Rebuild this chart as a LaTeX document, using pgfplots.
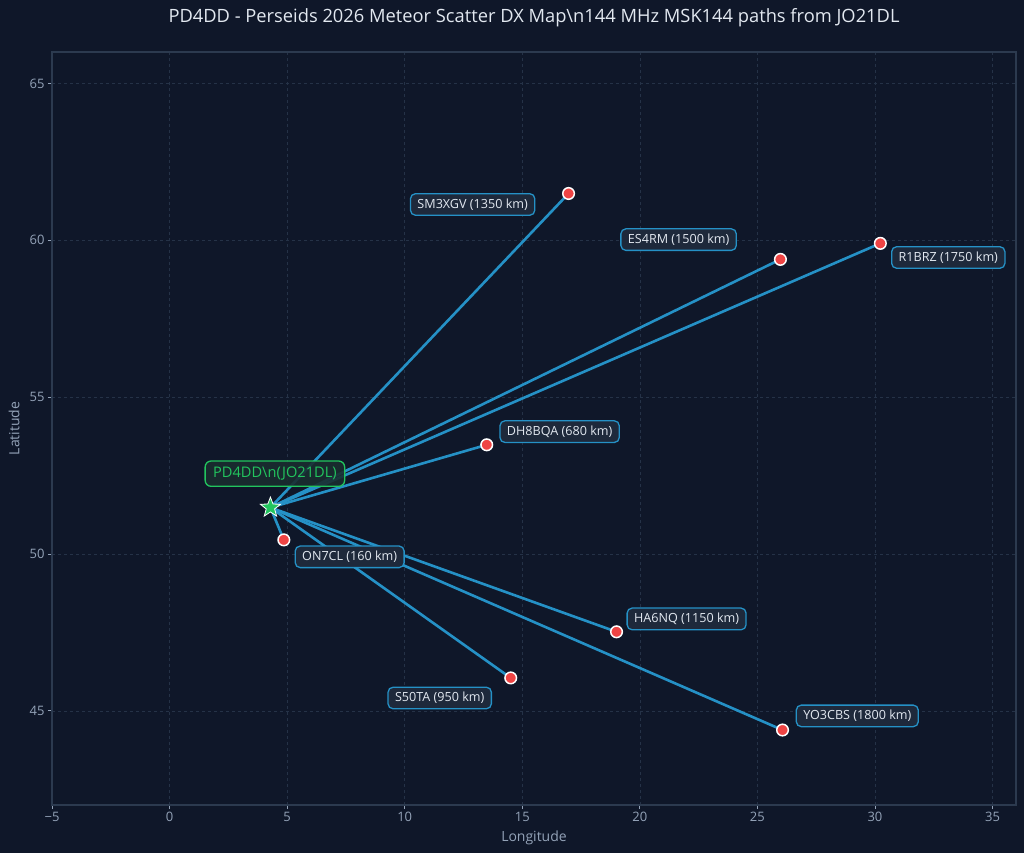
\documentclass[border=0pt]{standalone}
\usepackage{pgfplots}
\pgfplotsset{compat=1.18}
\usepackage{fontspec}
\setmainfont{Open Sans}
\definecolor{bg}{HTML}{0F1729}
\definecolor{boxfill}{HTML}{1E293B}
\definecolor{pathblue}{HTML}{2591C6}
\definecolor{stred}{HTML}{EF4444}
\definecolor{homegreen}{HTML}{22C55E}
\definecolor{tickgray}{HTML}{94A3B8}
\definecolor{axisline}{HTML}{2C3A4F}
\definecolor{gridc}{HTML}{253247}
\definecolor{txt}{HTML}{E2E8F0}
\definecolor{greenfill}{HTML}{1A2D2F}
\pgfdeclareplotmark{fstar}{%
  \pgfpathmoveto{\pgfqpointpolar{90}{\pgfplotmarksize}}%
  \pgfpathlineto{\pgfqpointpolar{126}{0.42\pgfplotmarksize}}%
  \pgfpathlineto{\pgfqpointpolar{162}{\pgfplotmarksize}}%
  \pgfpathlineto{\pgfqpointpolar{198}{0.42\pgfplotmarksize}}%
  \pgfpathlineto{\pgfqpointpolar{234}{\pgfplotmarksize}}%
  \pgfpathlineto{\pgfqpointpolar{270}{0.42\pgfplotmarksize}}%
  \pgfpathlineto{\pgfqpointpolar{306}{\pgfplotmarksize}}%
  \pgfpathlineto{\pgfqpointpolar{342}{0.42\pgfplotmarksize}}%
  \pgfpathlineto{\pgfqpointpolar{18}{\pgfplotmarksize}}%
  \pgfpathlineto{\pgfqpointpolar{54}{0.42\pgfplotmarksize}}%
  \pgfpathclose
  \pgfusepathqfillstroke
}
\begin{document}
\begin{tikzpicture}[x=1pt,y=1pt]
\fill[bg] (0,0) rectangle (1024,853);
\node[text=txt, font=\fontsize{18.3}{21}\selectfont] at (534,835) {PD4DD - Perseids 2026 Meteor Scatter DX Map\textbackslash n144 MHz MSK144 paths from JO21DL};
\begin{axis}[
  at={(52pt,48pt)}, anchor=south west,
  scale only axis, width=964pt, height=753pt,
  xmin=-5, xmax=36, ymin=42, ymax=66,
  xtick={-5,0,5,10,15,20,25,30,35},
  xticklabels={−5,0,5,10,15,20,25,30,35},
  ytick={45,50,55,60,65},
  yticklabels={45,50,55,60,65},
  axis line style={axisline, line width=1.2pt},
  tick style={tickgray, line width=0.8pt},
  tick align=outside, major tick length=4pt,
  xtick pos=bottom, ytick pos=left,
  ticklabel style={text=tickgray, font=\fontsize{13}{15}\selectfont},
  grid=major,
  major grid style={gridc, dashed, line width=0.6pt},
  xlabel={Longitude}, ylabel={Latitude},
  label style={text=tickgray, font=\fontsize{14}{16}\selectfont},
  xlabel style={at={(axis description cs:0.5,0)}, anchor=north, yshift=-22pt},
  ylabel style={at={(axis description cs:0,0.5)}, anchor=south, yshift=29pt},
  clip=false,
]
\addplot[pathblue, line width=2.6pt] coordinates {(4.29,51.48) (4.86,50.45)};
\addplot[pathblue, line width=2.6pt] coordinates {(4.29,51.48) (16.97,61.49)};
\addplot[pathblue, line width=2.6pt] coordinates {(4.29,51.48) (25.98,59.39)};
\addplot[pathblue, line width=2.6pt] coordinates {(4.29,51.48) (30.23,59.90)};
\addplot[pathblue, line width=2.6pt] coordinates {(4.29,51.48) (13.49,53.48)};
\addplot[pathblue, line width=2.6pt] coordinates {(4.29,51.48) (19.01,47.52)};
\addplot[pathblue, line width=2.6pt] coordinates {(4.29,51.48) (14.51,46.05)};
\addplot[pathblue, line width=2.6pt] coordinates {(4.29,51.48) (26.07,44.39)};
\addplot[only marks, mark=*, mark size=5.8pt, mark options={fill=stred, draw=white, line width=1.5pt}] coordinates {
(4.86,50.45) (16.97,61.49) (25.98,59.39) (30.23,59.90) (13.49,53.48) (19.01,47.52) (14.51,46.05) (26.07,44.39)};
\addplot[only marks, mark=fstar, mark size=10.5pt, mark options={draw=white, fill=homegreen, line width=0.8pt}] coordinates {(4.29,51.48)};
\tikzset{lbl/.style={draw=pathblue, fill=boxfill, rounded corners=5pt, line width=1.3pt, text=txt, font=\fontsize{12.6}{14}\selectfont, inner xsep=7pt, inner ysep=5pt}}
\node[lbl] at (axis cs:12.89,61.14) {SM3XGV (1350 km)};
\node[lbl] at (axis cs:21.65,60.02) {ES4RM (1500 km)};
\node[lbl] at (axis cs:33.12,59.45) {R1BRZ (1750 km)};
\node[lbl] at (axis cs:16.59,53.90) {DH8BQA (680 km)};
\node[lbl] at (axis cs:7.66,49.91) {ON7CL (160 km)};
\node[lbl] at (axis cs:21.99,47.93) {HA6NQ (1150 km)};
\node[lbl] at (axis cs:11.49,45.41) {S50TA (950 km)};
\node[lbl] at (axis cs:29.25,44.84) {YO3CBS (1800 km)};
\node[draw=homegreen, fill=greenfill, fill opacity=0.9, text opacity=1, rounded corners=6pt, line width=1.3pt, text=homegreen, font=\fontsize{14.6}{16}\selectfont, inner xsep=8pt, inner ysep=6pt] at (axis cs:4.48,52.56) {PD4DD\textbackslash n(JO21DL)};
\end{axis}
\end{tikzpicture}
\end{document}
